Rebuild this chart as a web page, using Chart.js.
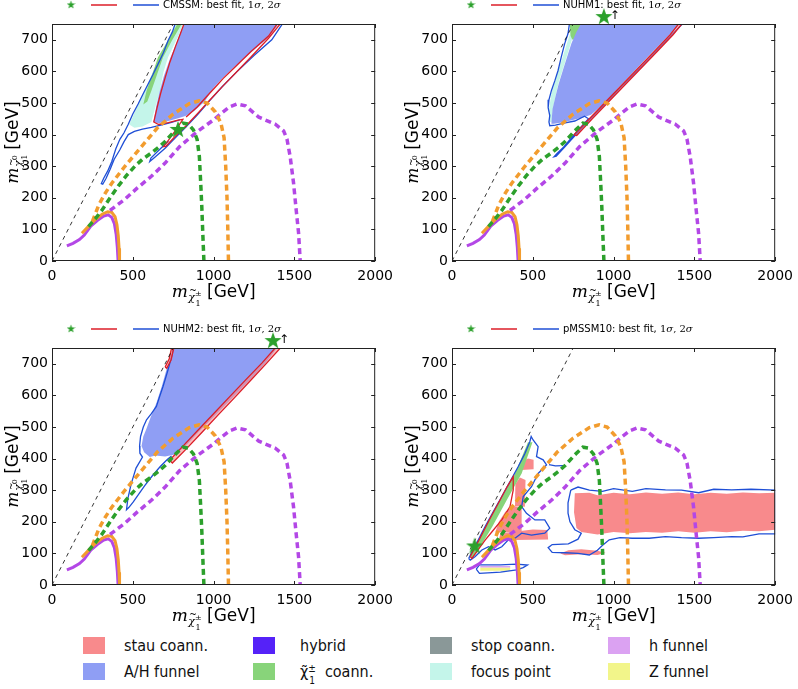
<!DOCTYPE html>
<html>
<head>
<meta charset="utf-8">
<script src="https://cdn.jsdelivr.net/npm/chart.js@4.4.1/dist/chart.umd.min.js"></script>
<style>
  body { margin: 0; background: #fff; width: 798px; height: 689px; overflow: hidden; position: relative; font-family: "DejaVu Sans", sans-serif; }
  .panel { position: absolute; }
  .panel canvas { display: block; }
  .sw { position: absolute; width: 22px; height: 17px; box-sizing: border-box; }
  .lt { position: absolute; font-family: "DejaVu Sans Condensed", "DejaVu Sans", sans-serif; font-stretch: condensed; font-size: 16px; color: #111; line-height: 17px; white-space: nowrap; }
  .ss { display: inline-block; position: relative; width: 9px; height: 10px; margin-right: 3px; }
  .ss .sp { position: absolute; left: 0; top: -7px; font-size: 10px; }
  .ss .sb { position: absolute; left: 1px; top: 5px; font-size: 10px; }
</style>
</head>
<body>
<div class="panel" style="left:0;top:0"><canvas id="p1" width="400" height="320"></canvas></div>
<div class="panel" style="left:400px;top:0"><canvas id="p2" width="400" height="320"></canvas></div>
<div class="panel" style="left:0;top:320px"><canvas id="p3" width="400" height="310"></canvas></div>
<div class="panel" style="left:400px;top:320px"><canvas id="p4" width="400" height="310"></canvas></div>
<div id="legend"></div>
<script>
// axes
const xTicks = [0, 500, 1000, 1500, 2000];
const yTicks = [0, 100, 200, 300, 400, 500, 600, 700];
const xMax = 2000, yMax = 750;

// model names and best-fit points (above 750 means off the top of the plot)
const models = ['CMSSM', 'NUHM1', 'NUHM2', 'pMSSM10'];
const bestFitX = [780, 940, 1368, 140];
const bestFitY = [418, 775, 775, 125];

// curves shared by every panel: m_chi0 = m_chi+- line and LHC limits
const diagLine = [[0, 0], [750, 750]];
const lhcOrangeSolid = [[185, 88], [230, 112], [270, 132], [310, 148], [345, 156], [370, 154], [390, 140], [402, 115], [410, 80], [415, 40], [418, 0]];
const lhcPurpleSolid = [[92, 48], [130, 56], [170, 68], [200, 82], [240, 110], [280, 128], [320, 142], [348, 146], [370, 138], [386, 118], [397, 85], [404, 45], [409, 0]];
const lhcOrangeDashed = [[250, 125], [290, 178], [330, 215], [370, 246], [450, 299], [554, 362], [650, 420], [750, 465], [850, 498], [910, 507], [960, 500], [1010, 472], [1045, 437], [1065, 390], [1075, 300], [1083, 200], [1088, 100], [1092, 0]];
const lhcGreenDashed = [[226, 109], [270, 135], [308, 160], [360, 200], [410, 237], [460, 270], [513, 300], [560, 322], [615, 342], [660, 360], [700, 378], [760, 412], [810, 436], [845, 433], [875, 415], [898, 385], [912, 330], [920, 250], [927, 172], [933, 90], [940, 0]];
const lhcPurpleDashed = [[359, 160], [450, 195], [530, 232], [615, 268], [700, 310], [790, 362], [900, 410], [993, 444], [1054, 470], [1100, 488], [1146, 497], [1198, 491], [1280, 455], [1382, 433], [1433, 412], [1454, 386], [1474, 330], [1495, 246], [1509, 172], [1526, 88], [1536, 0]];

// CMSSM
const cmssmAH = [[820, 752], [1405, 752], [1340, 707], [1230, 660], [1125, 612], [1055, 578], [1000, 548], [945, 505], [880, 475], [830, 460], [780, 452], [720, 443], [660, 436], [628, 440], [645, 490], [665, 535], [692, 585], [730, 640], [770, 690], [800, 730]];
const cmssmFocus = [[478, 432], [520, 480], [574, 539], [612, 585], [650, 628], [700, 682], [740, 722], [770, 752], [812, 752], [785, 715], [752, 680], [718, 645], [690, 598], [667, 539], [640, 488], [615, 440], [560, 426], [510, 422]];
const cmssmChargino = [[565, 495], [585, 539], [620, 590], [656, 645], [720, 700], [778, 752], [805, 752], [745, 700], [687, 645], [650, 590], [615, 539], [590, 505]];
const cmssmRedA = [[820, 755], [795, 720], [765, 680], [730, 630], [700, 580], [672, 530], [650, 485], [630, 440], [660, 432], [720, 438], [780, 446], [810, 448], [760, 410], [720, 382], [690, 362], [705, 363], [760, 393], [830, 428], [900, 466], [960, 500], [1000, 522], [1060, 555], [1130, 592], [1230, 645], [1340, 705], [1420, 755]];
const cmssmRedB = [[830, 456], [900, 488], [960, 522], [1010, 550], [1060, 578], [1125, 610], [1230, 662], [1340, 712], [1400, 755]];
const cmssmBlueA = [[765, 755], [745, 725], [718, 697], [690, 660], [656, 623], [625, 590], [595, 560], [565, 530], [533, 497], [500, 465], [472, 433], [445, 405], [420, 385], [395, 355], [370, 315], [345, 285], [320, 262], [305, 245], [314, 243], [335, 262], [360, 290], [385, 322], [420, 352], [445, 377], [472, 400], [510, 410], [560, 417], [615, 423], [680, 431], [740, 439], [792, 447]];
const cmssmBlueB = [[1432, 755], [1360, 700], [1250, 650], [1140, 597], [1050, 550], [980, 510], [900, 463], [830, 425], [760, 388], [700, 357], [640, 330], [605, 315], [612, 326], [650, 345], [720, 380]];

// NUHM1
const nuhm1AH = [[800, 752], [1410, 752], [1340, 713], [1230, 656], [1130, 602], [1030, 548], [940, 498], [860, 463], [820, 456], [760, 448], [690, 439], [630, 434], [615, 434], [622, 480], [640, 520], [660, 560], [690, 610], [715, 650], [740, 690], [770, 725]];
const nuhm1Focus = [[606, 440], [602, 485], [615, 530], [638, 570], [662, 610], [688, 650], [712, 690], [732, 722], [742, 752], [775, 752], [742, 700], [715, 655], [688, 610], [660, 565], [640, 520], [624, 480], [617, 440]];
const nuhm1Chargino = [[728, 752], [734, 712], [745, 700], [772, 706], [790, 735], [800, 752]];
const nuhm1Band = [[754, 399], [850, 450], [950, 503], [1050, 556], [1150, 609], [1250, 662], [1350, 716], [1410, 755], [1430, 755], [1368, 716], [1268, 662], [1168, 609], [1068, 556], [968, 503], [868, 450], [772, 397], [754, 399]];
const nuhm1Blue = [[728, 755], [718, 720], [697, 687], [676, 645], [656, 602], [636, 570], [615, 539], [600, 510], [595, 485], [605, 460], [600, 440], [605, 428], [640, 430], [700, 437], [760, 443], [820, 458], [845, 450], [800, 425], [740, 390], [690, 360], [650, 340], [632, 330], [645, 332], [700, 362], [760, 396], [830, 436], [900, 473], [980, 515], [1060, 558], [1150, 604], [1250, 657], [1340, 705], [1435, 755]];

// NUHM2
const nuhm2AH = [[759, 752], [1395, 752], [1330, 708], [1282, 680], [1200, 636], [1118, 593], [1020, 542], [913, 487], [840, 447], [769, 414], [700, 407], [640, 410], [605, 405], [570, 420], [554, 440], [565, 470], [585, 495], [610, 530], [646, 576], [680, 630], [708, 681], [735, 720]];
const nuhm2Chargino = [[755, 752], [800, 752], [782, 720], [765, 712]];
const nuhm2Band = [[728, 395], [800, 434], [900, 488], [1000, 542], [1100, 596], [1200, 650], [1300, 703], [1390, 755], [1422, 755], [1330, 703], [1230, 648], [1130, 593], [1030, 539], [930, 484], [830, 430], [745, 386], [728, 395]];
const nuhm2RedTop = [[700, 690], [725, 715], [742, 755], [756, 755], [737, 712], [710, 686], [700, 690]];
const nuhm2Blue = [[750, 755], [745, 734], [728, 700], [718, 681], [703, 655], [687, 628], [665, 595], [646, 565], [615, 542], [585, 523], [565, 500], [548, 470], [542, 440], [544, 417], [560, 405], [520, 370], [490, 320], [470, 275], [461, 238], [475, 245], [502, 262], [540, 290], [575, 315], [620, 345], [670, 375], [715, 398], [740, 408]];

// pMSSM10
const pm10Chargino = [[110, 95], [210, 185], [300, 270], [390, 353], [470, 452], [498, 452], [431, 353], [340, 270], [250, 185], [150, 100], [125, 85]];
const pm10StauA = [[431, 364], [502, 366], [505, 396], [470, 400], [435, 390]];
const pm10StauB = [[390, 250], [451, 248], [455, 332], [420, 340], [392, 320]];
const pm10StauC = [[267, 166], [431, 166], [431, 246], [380, 250], [330, 232], [290, 200]];
const pm10StauD = [[287, 142], [595, 144], [590, 174], [500, 176], [410, 170], [300, 162]];
const pm10StauLow = [[670, 100], [720, 110], [800, 113], [900, 108], [950, 102], [900, 95], [800, 97], [700, 94]];
const pm10StauBand = [[760, 290], [850, 292], [900, 284], [1000, 292], [1100, 287], [1200, 293], [1300, 289], [1400, 293], [1500, 287], [1600, 292], [1700, 289], [1800, 293], [1900, 290], [2000, 292], [2000, 175], [1900, 170], [1800, 172], [1700, 167], [1600, 170], [1500, 165], [1400, 170], [1300, 165], [1200, 168], [1100, 164], [1000, 168], [900, 160], [800, 168], [770, 180], [755, 230]];
const pm10ZFunnel = [[175, 45], [360, 45], [360, 55], [175, 55]];
const pm10HFunnel = [[175, 55], [360, 55], [360, 60], [175, 60]];
const pm10Red = [[113, 90], [170, 145], [230, 205], [290, 262], [340, 310], [379, 343], [379, 301], [359, 248], [308, 206], [250, 170], [205, 142], [160, 110], [123, 84], [113, 90]];
const pm10BlueLeft = [[103, 84], [150, 130], [205, 185], [255, 232], [308, 280], [360, 328], [410, 375], [450, 415], [482, 454], [490, 470], [502, 459], [533, 438], [523, 406], [564, 396], [585, 380], [533, 353], [492, 311], [441, 280], [431, 248], [461, 227], [513, 206], [574, 206], [605, 180], [574, 164], [492, 158], [431, 164], [390, 148], [349, 143], [308, 121], [267, 111], [226, 121], [185, 111], [144, 90], [113, 79], [103, 84]];
const pm10BlueDash = [[600, 381], [640, 377], [690, 378]];
const pm10BlueBox = [[150, 50], [170, 64], [300, 64], [400, 66], [467, 63], [440, 55], [400, 48], [300, 41], [170, 37], [150, 50]];
const pm10BlueRight = [[735, 300], [780, 310], [850, 300], [931, 296], [1000, 305], [1116, 296], [1200, 305], [1321, 301], [1420, 300], [1526, 292], [1620, 303], [1731, 301], [1850, 303], [2005, 300], [2005, 162], [1900, 162], [1800, 152], [1731, 153], [1620, 150], [1526, 148], [1420, 150], [1321, 153], [1220, 148], [1116, 148], [1040, 150], [973, 143], [930, 125], [900, 110], [850, 95], [780, 100], [700, 102], [620, 103], [595, 118], [620, 128], [720, 130], [780, 145], [800, 164], [760, 175], [730, 200], [718, 227], [718, 260], [735, 300]];

// legend
const legendLabels = ['stau coann.', 'A/H funnel', 'hybrid', 'χ̃ coann.', 'stop coann.', 'focus point', 'h funnel', 'Z funnel'];
const legendColors = ['#f88a8c', '#8f9ef4', '#5522f8', '#88d47a', '#8a9898', '#c4f5ea', '#dba2f2', '#f2f58a'];

const STAU = '#f88a8c', AH = '#8f9ef4', CHARG = '#88d47a', FOCUS = '#c4f5ea', HF = '#dba2f2', ZF = '#f2f58a';
const RED = '#dc1e28', BLUE = '#1f4fd6', ORANGE = '#f29c2e', GREEN = '#2ca02c', PURPLE = '#b347e6';

Chart.defaults.font.family = '"DejaVu Sans", sans-serif';
Chart.defaults.font.size = 14;
Chart.defaults.color = '#000';

const toPts = arr => arr.map(([x, y]) => ({ x, y }));
function area(arr, color) {
  return { data: toPts(arr), fill: 'shape', backgroundColor: color, borderColor: 'rgba(0,0,0,0)', borderWidth: 0.01, pointRadius: 0 };
}
function curve(arr, color, width, dash) {
  return { data: toPts(arr), fill: false, borderColor: color, borderWidth: width, borderDash: dash || [], borderCapStyle: 'butt', pointRadius: 0 };
}
function starImage(size) {
  const c = document.createElement('canvas');
  c.width = c.height = size;
  const g = c.getContext('2d');
  g.fillStyle = GREEN;
  g.beginPath();
  for (let i = 0; i < 10; i++) {
    const r = i % 2 ? size * 0.2 : size * 0.5;
    const a = -Math.PI / 2 + i * Math.PI / 5;
    g.lineTo(size / 2 + r * Math.cos(a), size * 0.55 + r * Math.sin(a));
  }
  g.closePath();
  g.fill();
  return c;
}
const bigStar = starImage(18);
const smallStar = starImage(9);

function commonLayers(i) {
  return [
    curve(diagLine, '#000', 0.8, [4, 4]),
    curve(lhcPurpleSolid, PURPLE, 3),
    curve(lhcOrangeSolid, ORANGE, 3),
    curve(lhcPurpleDashed, PURPLE, 3.5, [6, 4]),
    curve(lhcOrangeDashed, ORANGE, 3.5, [6, 4]),
    curve(lhcGreenDashed, GREEN, 3.5, [6, 4]),
    { data: [{ x: bestFitX[i], y: bestFitY[i] }], showLine: false, pointStyle: bigStar, pointRadius: 9, clip: false }
  ];
}

// bottom-to-top drawing layers for each panel
const panelLayers = [
  [area(cmssmFocus, FOCUS), area(cmssmChargino, CHARG), area(cmssmAH, AH),
   curve(cmssmBlueA, BLUE, 1.3), curve(cmssmBlueB, BLUE, 1.3), curve(cmssmRedA, RED, 1.3), curve(cmssmRedB, RED, 1.3)],
  [area(nuhm1Focus, FOCUS), area(nuhm1Chargino, CHARG), area(nuhm1AH, AH),
   curve(nuhm1Blue, BLUE, 1.3), { ...area(nuhm1Band, 'rgba(248,138,140,0.45)'), borderColor: RED, borderWidth: 1.3 }],
  [area(nuhm2Chargino, CHARG), area(nuhm2AH, AH), curve(nuhm2Blue, BLUE, 1.3),
   { ...area(nuhm2Band, 'rgba(248,138,140,0.6)'), borderColor: RED, borderWidth: 1.3 },
   { ...area(nuhm2RedTop, 'rgba(248,138,140,0.6)'), borderColor: RED, borderWidth: 1.3 }],
  [area(pm10StauBand, STAU), area(pm10StauA, STAU), area(pm10StauB, STAU), area(pm10StauC, STAU), area(pm10StauD, STAU),
   area(pm10StauLow, STAU), area(pm10Chargino, CHARG),
   area(pm10ZFunnel, ZF), area(pm10HFunnel, HF),
   curve(pm10BlueLeft, BLUE, 1.3), curve(pm10BlueDash, BLUE, 1.3), curve(pm10BlueBox, BLUE, 1.3), curve(pm10BlueRight, BLUE, 1.3),
   curve(pm10Red, RED, 1.3)]
];

// draws m_{chi~_1^sup} [GeV] starting at (x0, base); returns its width
function massLabel(ctx, x0, base, sup, dry) {
  const parts = [
    { t: 'm', f: 'italic 17px "DejaVu Serif"', dy: 0 },
    { t: 'χ', f: 'italic 11px "DejaVu Serif"', dy: 4 },
    { t: sup, f: '8px "DejaVu Serif"', dy: -1, stack: '1' },
    { t: ' [GeV]', f: '17px "DejaVu Sans"', dy: 0 }
  ];
  let x = x0;
  for (const p of parts) {
    ctx.font = p.f;
    const w = ctx.measureText(p.t).width;
    let adv = w;
    if (p.stack) adv = Math.max(w, ctx.measureText(p.stack).width);
    if (!dry) {
      ctx.fillText(p.t, x, base + p.dy);
      if (p.stack) ctx.fillText(p.stack, x + 0.5, base + 9);
      if (p.t === 'χ') { ctx.font = '9px "DejaVu Serif"'; ctx.fillText('~', x + 1, base - 4); }
    }
    x += adv + (p.t === 'm' ? 0.5 : 0);
  }
  return x - x0;
}

const decor = {
  id: 'decor',
  afterDatasetsDraw(chart) {
    const { ctx, chartArea: a, scales: { x, y } } = chart;
    ctx.save();
    ctx.strokeStyle = '#222';
    ctx.lineWidth = 1;
    ctx.beginPath();
    xTicks.forEach(v => {
      const px = Math.round(x.getPixelForValue(v)) + 0.5;
      ctx.moveTo(px, a.bottom); ctx.lineTo(px, a.bottom - 4);
      ctx.moveTo(px, a.top); ctx.lineTo(px, a.top + 4);
    });
    yTicks.forEach(v => {
      const py = Math.round(y.getPixelForValue(v)) + 0.5;
      ctx.moveTo(a.left, py); ctx.lineTo(a.left + 4, py);
      ctx.moveTo(a.right, py); ctx.lineTo(a.right - 4, py);
    });
    ctx.stroke();
    ctx.strokeRect(a.left + 0.5, a.top + 0.5, a.right - a.left - 1, a.bottom - a.top - 1);
    ctx.restore();
  },
  afterDraw(chart) {
    const { ctx, chartArea: a, scales: { x, y } } = chart;
    const i = chart.options.plugins.decor.index;
    ctx.save();
    ctx.fillStyle = '#000';
    ctx.textBaseline = 'alphabetic';
    // x title
    const wx = massLabel(ctx, 0, 0, '±', true);
    massLabel(ctx, (a.left + a.right) / 2 - wx / 2, a.bottom + 36, '±', false);
    // y title
    ctx.save();
    ctx.translate(18, (a.top + a.bottom) / 2);
    ctx.rotate(-Math.PI / 2);
    const wy = massLabel(ctx, 0, 0, '0', true);
    massLabel(ctx, -wy / 2, 0, '0', false);
    ctx.restore();
    // header key
    const hy = a.top - 19;
    ctx.drawImage(smallStar, 71 - 4.5, hy - 5);
    ctx.lineWidth = 1.5;
    ctx.strokeStyle = RED; ctx.beginPath(); ctx.moveTo(91, hy); ctx.lineTo(117, hy); ctx.stroke();
    ctx.strokeStyle = BLUE; ctx.beginPath(); ctx.moveTo(133, hy); ctx.lineTo(159, hy); ctx.stroke();
    ctx.textBaseline = 'middle';
    ctx.font = '10px "DejaVu Sans"';
    const head = models[i] + ': best fit, ';
    ctx.fillText(head, 163, hy);
    let hx = 163 + ctx.measureText(head).width;
    ctx.font = '10px "DejaVu Serif"';
    ctx.fillText('1', hx, hy); hx += ctx.measureText('1').width;
    ctx.font = 'italic 10px "DejaVu Serif"';
    ctx.fillText('σ', hx, hy); hx += ctx.measureText('σ').width;
    ctx.font = '10px "DejaVu Serif"';
    ctx.fillText(', 2', hx, hy); hx += ctx.measureText(', 2').width;
    ctx.font = 'italic 10px "DejaVu Serif"';
    ctx.fillText('σ', hx, hy);
    // arrow for a best fit above the plotted range
    if (bestFitY[i] > yMax) {
      ctx.font = '12px "DejaVu Sans"';
      ctx.textAlign = 'center';
      ctx.fillText('↑', x.getPixelForValue(bestFitX[i]) + 11, y.getPixelForValue(bestFitY[i]));
    }
    ctx.restore();
  }
};

function makeChart(id, i, top, bottom, right, height) {
  const datasets = panelLayers[i].concat(commonLayers(i)).reverse();
  new Chart(document.getElementById(id), {
    type: 'line',
    data: { datasets },
    options: {
      responsive: false,
      animation: false,
      events: [],
      layout: { padding: { top, right, left: 0, bottom: 0 } },
      plugins: { legend: { display: false }, tooltip: { enabled: false }, decor: { index: i } },
      scales: {
        x: {
          type: 'linear', min: 0, max: xMax,
          grid: { display: false, drawTicks: false }, border: { display: false },
          ticks: { padding: 7, font: { size: 14 }, color: '#000', maxRotation: 0, callback: v => String(v) },
          afterBuildTicks: s => { s.ticks = xTicks.map(v => ({ value: v })); },
          afterFit: s => { s.height = height - bottom; }
        },
        y: {
          type: 'linear', min: 0, max: yMax,
          grid: { display: false, drawTicks: false }, border: { display: false },
          ticks: { padding: 4, font: { size: 14 }, color: '#000', callback: v => String(v) },
          afterBuildTicks: s => { s.ticks = yTicks.map(v => ({ value: v })); },
          afterFit: s => { s.width = 52; }
        }
      }
    },
    plugins: [decor]
  });
}

makeChart('p1', 0, 24, 261, 23, 320);
makeChart('p2', 1, 24, 261, 22, 320);
makeChart('p3', 2, 28, 265, 23, 310);
makeChart('p4', 3, 28, 265, 22, 310);

// bottom legend, 4 columns x 2 rows
const legSwatchX = [83, 253, 430, 608];
const legTextX = [124, 300, 471, 649];
const legRowY = [637, 663];
const leg = document.getElementById('legend');
legendLabels.forEach((label, k) => {
  const col = Math.floor(k / 2), row = k % 2;
  const sw = document.createElement('div');
  sw.className = 'sw';
  sw.style.left = legSwatchX[col] + 'px';
  sw.style.top = legRowY[row] + 'px';
  sw.style.background = legendColors[k];
  leg.appendChild(sw);
  const t = document.createElement('div');
  t.className = 'lt';
  t.style.left = legTextX[col] + 'px';
  t.style.top = legRowY[row] + 'px';
  if (label.startsWith('χ̃')) {
    t.innerHTML = 'χ̃<span class="ss"><span class="sp">±</span><span class="sb">1</span></span>' + label.slice(2);
  } else {
    t.textContent = label;
  }
  leg.appendChild(t);
});
</script>
</body>
</html>
